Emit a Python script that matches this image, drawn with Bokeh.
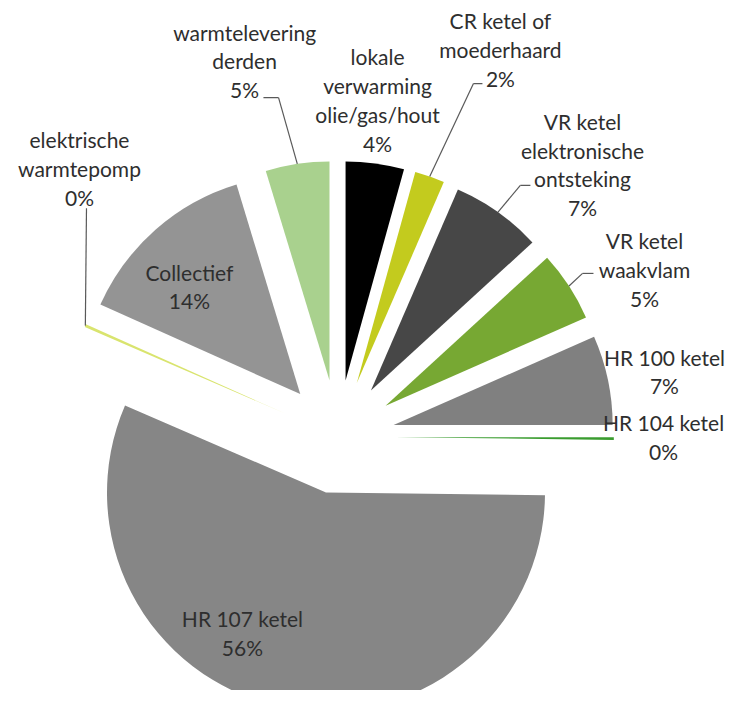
import math
from bokeh.plotting import figure
from bokeh.models import Range1d, ColumnDataSource
from bokeh.core.properties import value
from bokeh.embed import file_html
from bokeh.resources import INLINE

# ---------------- data ----------------
categories = [
    "lokale\nverwarming\nolie/gas/hout",
    "CR ketel of\nmoederhaard",
    "VR ketel\nelektronische\nontsteking",
    "VR ketel\nwaakvlam",
    "HR 100 ketel",
    "HR 104 ketel",
    "HR 107 ketel",
    "elektrische\nwarmtepomp",
    "Collectief",
    "warmtelevering\nderden",
]
shares = [4.3, 2.2, 6.7, 5.2, 6.6, 0.2, 56.3, 0.2, 13.6, 4.7]

# ---------------- style / layout ----------------
colors = ["#000000", "#c3cb1e", "#474747", "#77a833", "#808080",
          "#3a9c2f", "#868686", "#d9e46e", "#949494", "#a9d18e"]
W, H = 725, 690
R_PX = 219.0                 # pie radius in pixels
O_PX = (337.4, 436.3)        # pie centre, px from frame top-left
EXPLODE = 0.26               # explosion as fraction of radius
FONT = "Lato"
FONT_SIZE = "21px"
LINE_H = 1.15
TEXT_COLOR = "#2e2e2e"
# label block centres (in pie radii, relative to pie centre)
label_pos = [(0.181, 1.538), (0.742, 1.768), (1.117, 1.243), (1.400, 0.764),
             (1.491, 0.298), (1.487, -0.001), (-0.436, -0.896),
             (-1.180, 1.226), (-0.678, 0.686), (-0.426, 1.717)]
# leader lines: slice index -> (elbow point, horizontal tick length)
leaders = {1: ((0.619, 1.613), 0.041),
           2: ((0.833, 1.148), 0.046),
           3: ((1.117, 0.746), 0.050),
           7: ((-1.148, 1.044), 0.0),
           9: ((-0.271, 1.549), -0.069)}

# ---------------- geometry ----------------
total = float(sum(shares))
cum = 0.0
wx, wy, st, en, mids = [], [], [], [], []
for v in shares:
    a0 = math.pi / 2 - 2 * math.pi * cum / total
    cum += v
    a1 = math.pi / 2 - 2 * math.pi * cum / total
    m = (a0 + a1) / 2
    mids.append(m)
    wx.append(EXPLODE * math.cos(m))
    wy.append(EXPLODE * math.sin(m))
    st.append(a1)
    en.append(a0)

src = ColumnDataSource(dict(x=wx, y=wy, start=st, end=en, color=colors))

x0 = -O_PX[0] / R_PX
x1 = (W - O_PX[0]) / R_PX
y1 = O_PX[1] / R_PX
y0 = -(H - O_PX[1]) / R_PX

p = figure(width=W, height=H, output_backend="svg", toolbar_location=None,
           x_range=Range1d(x0, x1), y_range=Range1d(y0, y1),
           min_border=0, outline_line_color=None, background_fill_color="white",
           border_fill_color="white")
p.axis.visible = False
p.xgrid.visible = False
p.ygrid.visible = False

p.wedge(x="x", y="y", radius=1.0, start_angle="start", end_angle="end",
        fill_color="color", line_color=None, source=src)

# leader lines
lx0, ly0, lx1, ly1 = [], [], [], []
for i, ((ex, ey), tick) in leaders.items():
    ox = wx[i] + math.cos(mids[i])
    oy = wy[i] + math.sin(mids[i])
    lx0.append(ox); ly0.append(oy); lx1.append(ex); ly1.append(ey)
    if tick != 0:
        lx0.append(ex); ly0.append(ey); lx1.append(ex + tick); ly1.append(ey)
p.segment(x0=lx0, y0=ly0, x1=lx1, y1=ly1, line_color="#595959", line_width=1.2)

labels = [f"{c}\n{round(v)}%" for c, v in zip(categories, shares)]
p.text(x=[q[0] for q in label_pos], y=[q[1] for q in label_pos], text=labels,
       text_align="center", text_baseline="middle", text_font=value(FONT),
       text_font_size=FONT_SIZE, text_color=TEXT_COLOR, text_line_height=LINE_H)

open("out.html", "w").write(file_html(p, INLINE))
